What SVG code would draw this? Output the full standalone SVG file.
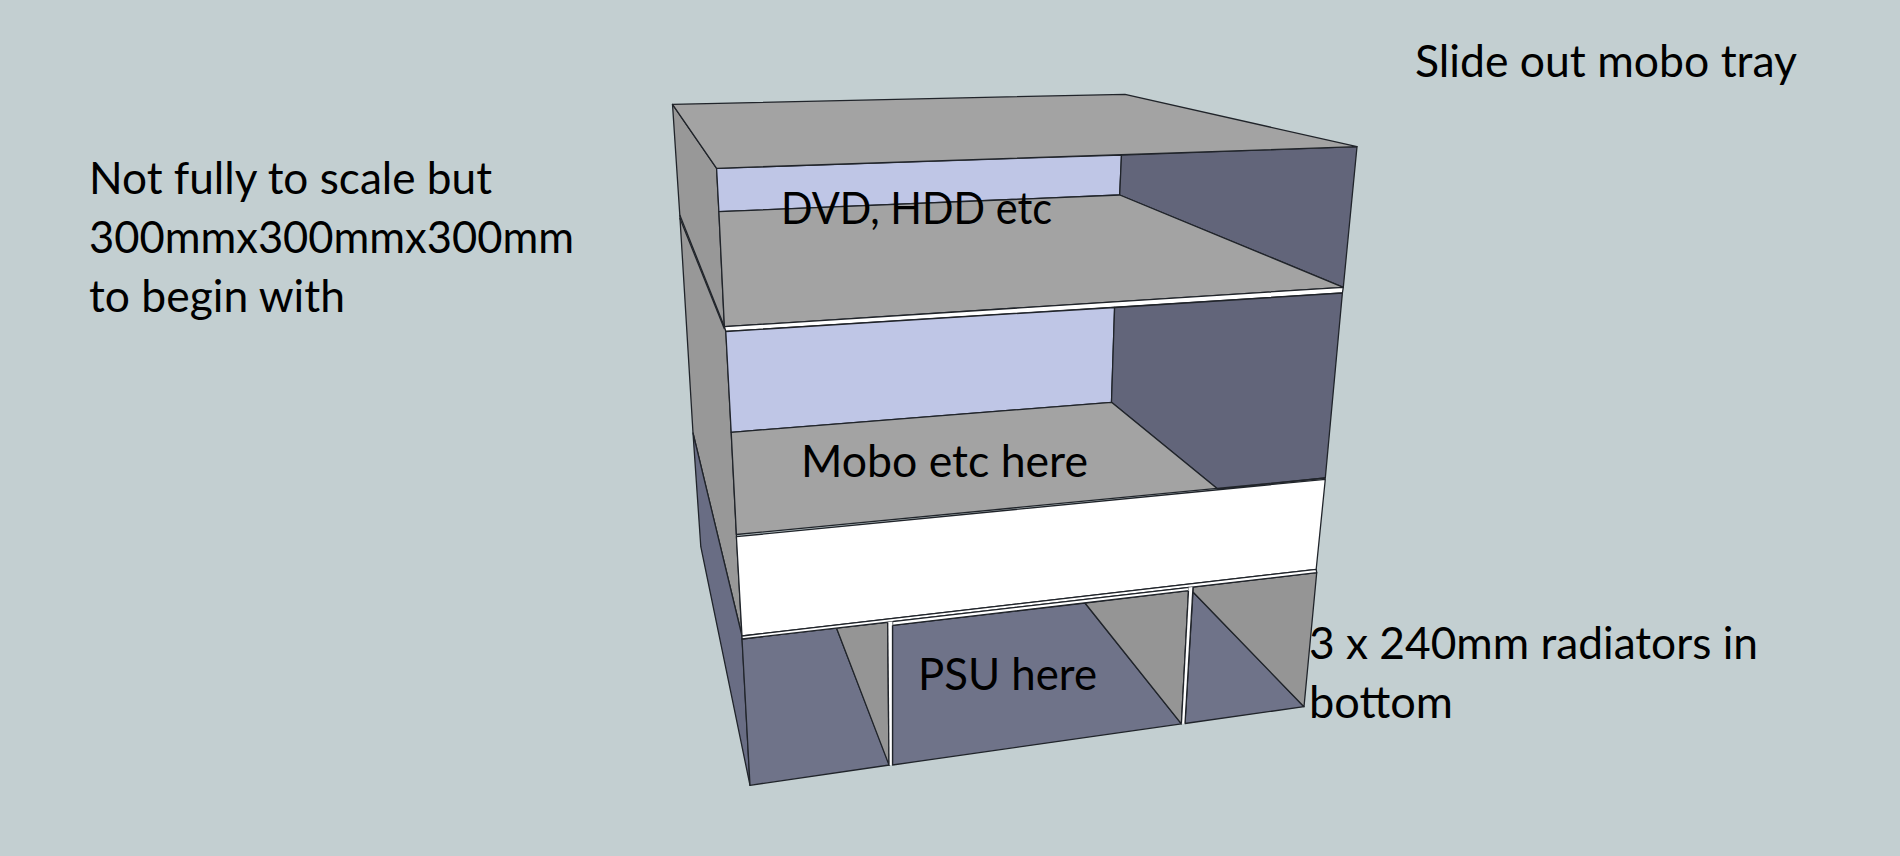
<svg xmlns="http://www.w3.org/2000/svg" width="1900" height="856" viewBox="0 0 1900 856">
<style>
.e{stroke:#20242a;stroke-width:1.3;stroke-linejoin:round}
.top{fill:#a3a3a3}.side{fill:#989898}.back{fill:#bfc6e6}.wall{fill:#62657a}.low{fill:#6f7389}.lowg{fill:#959595}.w{fill:#fff}
text{font-family:"Lato","Open Sans",sans-serif;font-size:44px;fill:#000}
</style>
<rect width="1900" height="856" fill="#c3cfd1"/>
<g id="side">
<polygon class="side e" points="672.5,104.3 716.6,168.3 718.9,211.7 724.4,326.7 725.8,330 731.2,432.3 736.4,535 742,636 693,433 688,350 679.8,215"/>
<polygon class="wall e" style="fill:#696d84" points="693,433 742,636 750,785.3 700.8,546.7"/>
<line class="e" x1="679.8" y1="215" x2="724.4" y2="326.7"/>
<line class="e" x1="679.8" y1="218" x2="724.4" y2="329"/>
</g>
<g id="upper-bay">
<polygon class="back e" points="716.6,168.3 1121.5,155 1119.7,195 718.9,211.7"/>
<polygon class="wall e" points="1121.5,155 1357,146.7 1343.3,287.3 1119.7,195"/>
<polygon class="top e" points="672.5,104.3 1125,94.3 1357,146.7 716.6,168.3"/>
<polygon class="top e" points="718.9,211.7 1119.7,195 1343.3,287.3 724.4,326.7"/>
<polygon class="w e" points="724.4,326.7 1343.3,287.3 1342.4,293 725.8,331.5"/>
</g>
<g id="middle-bay">
<polygon class="back e" points="725.8,331.5 1114.6,307.5 1111.5,402.3 731.2,432.3"/>
<polygon class="wall e" points="1114.6,307.5 1342.4,293 1325.3,478 1217.7,489 1111.5,402.3"/>
<polygon class="top e" points="731.2,432.3 1111.5,402.3 1217.7,489 1325.3,478 736.4,534.5"/>
<polygon class="w e" points="736.4,536.7 1325.3,479.3 1316.2,569.3 742,636"/>
</g>
<g id="lower-bay">
<polygon class="low e" points="742,639 836.6,628.2 889.5,765 750,785.3"/>
<polygon class="lowg e" points="836.6,628.2 887.7,622.3 889,765"/>
<polygon class="low e" points="892.5,625.3 1085,603 1181.4,723.8 892.5,765"/>
<polygon class="lowg e" points="1085,603 1188.5,590.7 1181.4,723.8"/>
<polygon class="low e" points="1193,592 1304,706.7 1185,723.5"/>
<polygon class="lowg e" points="1193,587 1316.7,572.7 1304,706.7 1193,592"/>
<polygon class="w e" points="742,636 1316.2,569.3 1316.7,572.7 742,639"/>
<polygon class="w e" points="892.5,621.6 1189,587.4 1188.5,590.7 892.5,625.3"/>
<polygon class="w" points="887.7,622 892.5,621.4 892.5,765 889,765"/>
<polygon class="w" points="1188.5,587.4 1193,587 1185,723.5 1181.4,723.8"/>
<line class="e" x1="887.7" y1="622.3" x2="889" y2="765"/>
<line class="e" x1="892.5" y1="625.3" x2="892.5" y2="765"/>
<line class="e" x1="1188.5" y1="590.7" x2="1181.4" y2="723.8"/>
<line class="e" x1="1193" y1="587" x2="1185" y2="723.5"/>
</g>
<g id="labels">
<text x="1415" y="77" textLength="382" lengthAdjust="spacingAndGlyphs">Slide out mobo tray</text>
<text x="89" y="194" textLength="403" lengthAdjust="spacingAndGlyphs">Not fully to scale but</text>
<text x="89" y="253" textLength="485" lengthAdjust="spacingAndGlyphs">300mmx300mmx300mm</text>
<text x="89" y="312" textLength="256" lengthAdjust="spacingAndGlyphs">to begin with</text>
<text x="781" y="224" textLength="271" lengthAdjust="spacingAndGlyphs">DVD, HDD etc</text>
<text x="801" y="477" textLength="287" lengthAdjust="spacingAndGlyphs">Mobo etc here</text>
<text x="918" y="690" textLength="179" lengthAdjust="spacingAndGlyphs">PSU here</text>
<text x="1309" y="659" textLength="449" lengthAdjust="spacingAndGlyphs">3 x 240mm radiators in</text>
<text x="1309" y="718" textLength="144" lengthAdjust="spacingAndGlyphs">bottom</text>
</g>
</svg>
